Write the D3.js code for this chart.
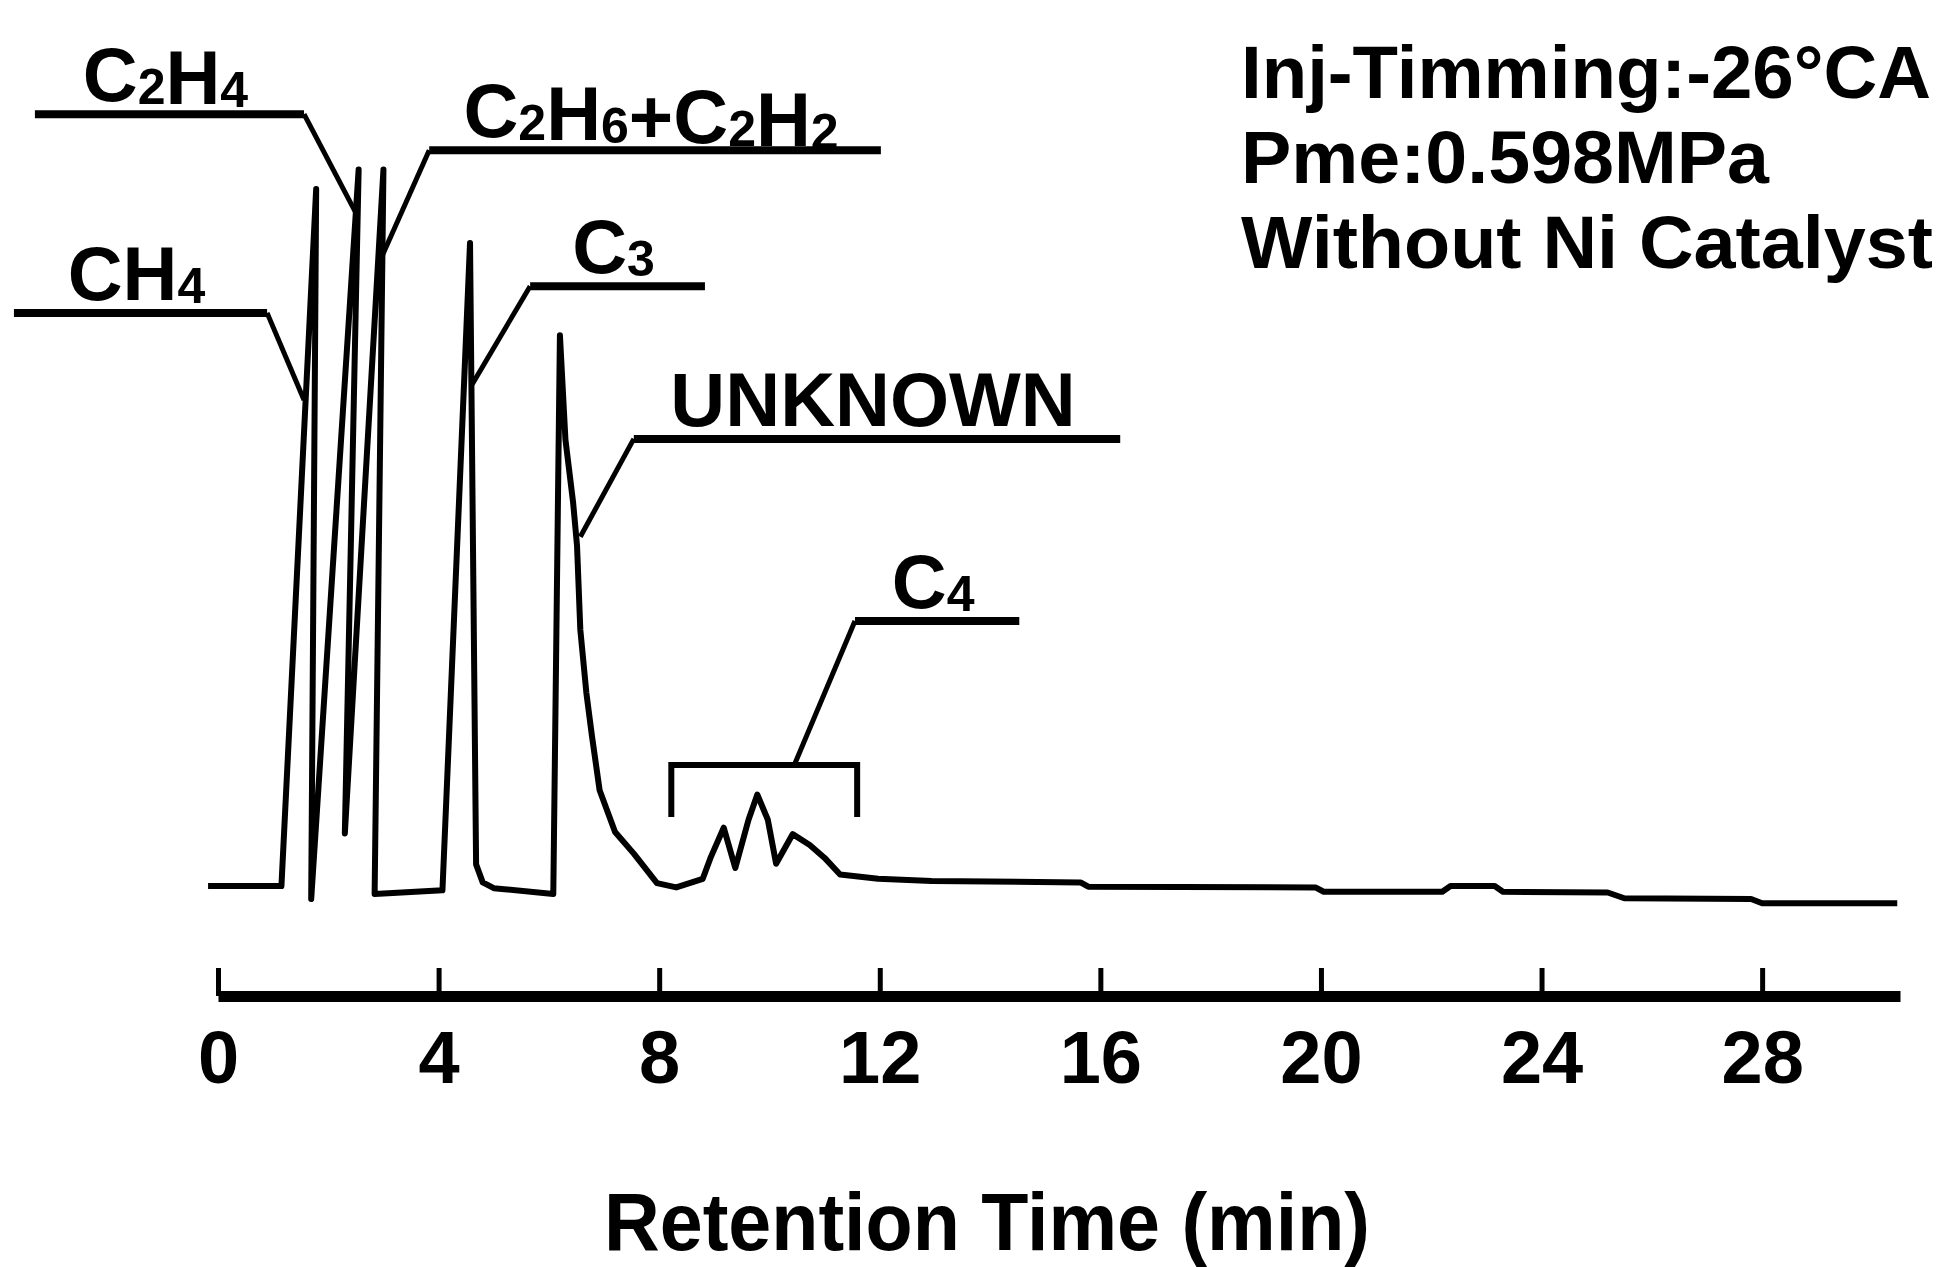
<!DOCTYPE html>
<html>
<head>
<meta charset="utf-8">
<script src="https://cdn.jsdelivr.net/npm/d3@7"></script>
<style>
  html, body { margin: 0; padding: 0; background: #fff; }
  svg { display: block; }
</style>
</head>
<body>
<script>
// 色谱曲线：保留时间 (min) 与检测信号 (任意单位)，从图上逐点读取
const time = [-0.18, 1.15, 1.78, 1.69, 2.55, 2.30, 3.00, 2.84, 4.07, 4.57, 4.68, 4.80, 5.00,
  6.08, 6.20, 6.30, 6.44, 6.51, 6.57, 6.68, 6.78, 6.92, 7.20, 7.54, 7.96, 8.31, 8.79, 8.93,
  9.17, 9.38, 9.62, 9.78, 9.97, 10.12, 10.42, 10.73, 11.00, 11.28, 11.97, 12.94, 15.64, 15.78,
  19.90, 20.05, 22.20, 22.35, 23.15, 23.30, 25.20, 25.50, 27.80, 28.00, 30.45];
const signal = [0, 0, 96.8, -1.8, 99.5, 7.3, 99.5, -1.1, -0.6, 89.3, 3, 0.5, -0.3,
  -1.1, 76.5, 62.0, 53.2, 47.3, 35.6, 26.8, 20.9, 13.3, 7.5, 4.5, 0.4, -0.2, 1.0, 3.9,
  8.1, 2.5, 9.2, 12.7, 9.2, 3.1, 7.2, 5.7, 3.9, 1.6, 1.0, 0.7, 0.5, -0.1,
  -0.2, -0.8, -0.8, 0, 0, -0.8, -0.9, -1.7, -1.8, -2.4, -2.4];

// 坐标轴刻度
const tickMinutes = [0, 4, 8, 12, 16, 20, 24, 28];

// 峰标注：名称（"_" 后为下标）、标注横线的起止时间与高度、引线指向的点
const peakNames = ["CH_4", "C_2H_4", "C_2H_6+C_2H_2", "C_3", "UNKNOWN", "C_4"];
const shelfFrom = [-3.70, -3.32, 3.83, 5.66, 7.54, 11.55];
const shelfTo = [0.89, 1.56, 12.02, 8.83, 16.36, 14.53];
const shelfLevel = [79.6, 107.2, 102.2, 83.3, 62.1, 36.8];
const pointTime = [1.56, 2.50, 2.97, 4.61, 6.57, 10.45];
const pointSignal = [67.5, 93.5, 87.4, 69.7, 48.5, 16.8];

// C4 区间括号
const c4Range = [8.22, 11.59];
const c4Bracket = [16.8, 9.6];

// 右上角实验条件
const conditions = ["Inj-Timming:-26°CA", "Pme:0.598MPa", "Without Ni Catalyst"];

const width = 1944, height = 1267;
const font = "'Liberation Sans', Arial, Helvetica, sans-serif";

const svg = d3.select("body").append("svg")
  .attr("width", width)
  .attr("height", height)
  .style("font-family", font)
  .style("font-weight", "bold");

const x = d3.scaleLinear().domain([0, 30.5]).range([218, 1900]);
const y = d3.scaleLinear().domain([0, 100]).range([886, 166]);

// 曲线
const trace = time.map((t, i) => [t, signal[i]]);
svg.append("path")
  .datum(trace)
  .attr("fill", "none")
  .attr("stroke", "#000")
  .attr("stroke-width", 6)
  .attr("stroke-linejoin", "round")
  .attr("d", d3.line().x(d => x(d[0])).y(d => y(d[1])));

// 横轴：刻度朝上，标签在下
const axis = svg.append("g")
  .attr("transform", "translate(0,996)")
  .call(d3.axisBottom(x)
    .tickValues(tickMinutes)
    .tickSizeInner(-28)
    .tickSizeOuter(0)
    .tickPadding(34)
    .tickFormat(d3.format("d")));

axis.select(".domain").attr("stroke", "#000").attr("stroke-width", 11);
axis.selectAll(".tick line").attr("stroke", "#000").attr("stroke-width", 5);
axis.selectAll(".tick text")
  .attr("fill", "#000")
  .style("font-family", font)
  .style("font-weight", "bold")
  .style("font-size", "74px");

svg.append("text")
  .attr("x", 604)
  .attr("y", 1250)
  .attr("textLength", 766)
  .attr("lengthAdjust", "spacingAndGlyphs")
  .style("font-size", "82px")
  .text("Retention Time (min)");

// 峰标注
const labels = svg.append("g");
peakNames.forEach((name, i) => {
  const x0 = x(shelfFrom[i]), x1 = x(shelfTo[i]), ys = y(shelfLevel[i]);
  const px = x(pointTime[i]), py = y(pointSignal[i]);
  const corner = pointTime[i] > shelfTo[i] ? x1 : x0;

  labels.append("line")
    .attr("x1", x0).attr("x2", x1).attr("y1", ys).attr("y2", ys)
    .attr("stroke", "#000").attr("stroke-width", 8);
  labels.append("line")
    .attr("x1", corner).attr("y1", ys).attr("x2", px).attr("y2", py)
    .attr("stroke", "#000").attr("stroke-width", 5);

  const text = labels.append("text")
    .attr("x", (x0 + x1) / 2 - 4)
    .attr("y", ys - 13)
    .attr("text-anchor", "middle")
    .style("font-size", "76px");
  name.split(/(_\d)/).filter(s => s).forEach(part => {
    if (part[0] === "_") {
      text.append("tspan").style("font-size", "50px").attr("dy", 3).text(part.slice(1));
      text.append("tspan").attr("dy", -3).text("");
    } else {
      text.append("tspan").text(part);
    }
  });
});

// C4 括号
labels.append("path")
  .attr("fill", "none")
  .attr("stroke", "#000")
  .attr("stroke-width", 6)
  .attr("d", d3.line()([
    [x(c4Range[0]), y(c4Bracket[1])],
    [x(c4Range[0]), y(c4Bracket[0])],
    [x(c4Range[1]), y(c4Bracket[0])],
    [x(c4Range[1]), y(c4Bracket[1])]
  ]));

// 实验条件
const condWidth = [690, 528, 692];
svg.append("g")
  .selectAll("text")
  .data(conditions)
  .join("text")
  .attr("x", 1241)
  .attr("y", (d, i) => 98 + i * 85)
  .attr("textLength", (d, i) => condWidth[i])
  .attr("lengthAdjust", "spacingAndGlyphs")
  .style("font-size", "74px")
  .text(d => d);
</script>
</body>
</html>
